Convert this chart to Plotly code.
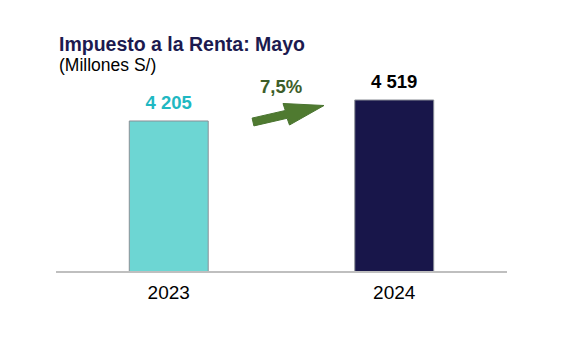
import plotly.graph_objects as go

categories = ["2023", "2024"]
values = [4205, 4519]
value_labels = ["4 205", "4 519"]
growth_label = "7,5%"
title_text = "Impuesto a la Renta: Mayo"
subtitle_text = "(Millones S/)"

bar_colors = ["#6dd6d3", "#18164a"]
label_colors = ["#1fb8c2", "#000000"]
FONT = "Liberation Sans, Arial, sans-serif"

W, H = 561, 343
L, R, T, B = 56, 54, 40, 72
PW, PH = W - L - R, H - T - B

def px(x):
    return (x - L) / PW

def py(y):
    return (H - B - y) / PH

fig = go.Figure()
fig.add_trace(go.Bar(
    x=categories, y=values,
    marker=dict(color=bar_colors, line=dict(color="#8a8f96", width=1)),
    width=0.35,
    hoverinfo="skip",
))
fig.add_trace(go.Scatter(
    x=categories, y=values, mode="markers+text",
    marker=dict(size=10, opacity=0),
    text=["<b>" + t + "</b>" for t in value_labels],
    textposition="top center",
    textfont=dict(family=FONT, size=18.5, color=label_colors),
    cliponaxis=False,
    hoverinfo="skip",
))

annotations = [
    dict(text="<b>" + title_text + "</b>", x=px(57), y=py(44), xref="paper", yref="paper",
         xanchor="left", yanchor="middle", showarrow=False,
         font=dict(family=FONT, size=19.5, color="#1c1a4f")),
    dict(text=subtitle_text, x=px(57), y=py(65), xref="paper", yref="paper",
         xanchor="left", yanchor="middle", showarrow=False,
         font=dict(family=FONT, size=17.5, color="#000000")),
    dict(text="<b>" + growth_label + "</b>", x=px(281), y=py(86), xref="paper", yref="paper",
         xanchor="center", yanchor="middle", showarrow=False,
         font=dict(family=FONT, size=18.5, color="#3d5e2a")),
]

# arrow polygon (pixel coordinates -> paper)
pts = [(252.1, 118.1), (285.3, 110.5), (283.0, 103.5), (324.0, 105.5),
       (289.5, 125.0), (287.1, 118.3), (253.9, 125.9)]
path = "M " + " L ".join(f"{px(x):.5f},{py(y):.5f}" for x, y in pts) + " Z"

fig.update_layout(
    width=W, height=H,
    margin=dict(l=L, r=R, t=T, b=B),
    paper_bgcolor="white", plot_bgcolor="white",
    showlegend=False,
    annotations=annotations,
    shapes=[dict(type="path", path=path, xref="paper", yref="paper",
                 fillcolor="#4f7a30", line=dict(color="#4a7430", width=1))],
    xaxis=dict(type="category", range=[-0.5, 1.5], showline=True, linecolor="#bfbfbf",
               linewidth=2, ticks="", showgrid=False, zeroline=False,
               ticklabelstandoff=3,
               tickfont=dict(family=FONT, size=19, color="#000000")),
    yaxis=dict(range=[1962, 5416], visible=False, showgrid=False, zeroline=False),
)

fig.write_html("out.html")
